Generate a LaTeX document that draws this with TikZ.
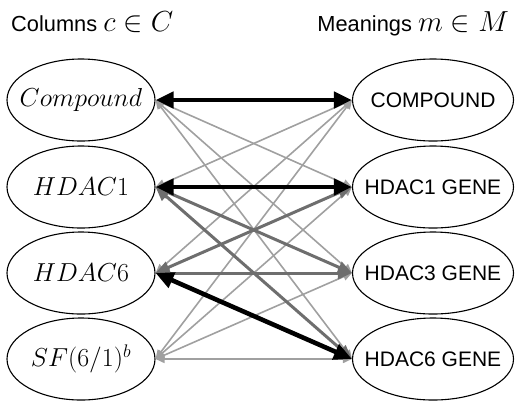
\RequirePackage{fix-cm}
\documentclass[tikz,border=0pt]{standalone}
\usepackage[no-math]{fontspec}
\newfontfamily\arialfont{Liberation Sans}
\usetikzlibrary{arrows.meta,shapes.geometric}
\definecolor{lgray}{HTML}{A0A0A0}
\definecolor{mgray}{HTML}{6E6E6E}
\begin{document}
\begin{tikzpicture}[x=1bp,y=-1bp,
  lnode/.style={draw,line width=1.1bp,ellipse,minimum width=148bp,minimum height=82bp,inner sep=0pt},
  rnode/.style={draw,line width=1.1bp,ellipse,minimum width=161bp,minimum height=82bp,inner sep=0pt},
  ltext/.style={inner sep=0pt,font=\fontsize{26bp}{30bp}\selectfont},
  rtext/.style={inner sep=0pt,font=\arialfont\fontsize{21bp}{25bp}\selectfont},
  hdr/.style={inner sep=0pt,font=\arialfont\fontsize{21.8bp}{26bp}\selectfont},
  liteedge/.style={draw=lgray,line width=1.6bp,{Triangle[length=9bp,width=8bp]}-{Triangle[length=9bp,width=8bp]}},
  midedge/.style={draw=mgray,line width=3bp,{Triangle[length=14bp,width=12bp]}-{Triangle[length=14bp,width=12bp]}},
  boldedge/.style={draw=black,line width=4.6bp,{Triangle[length=18bp,width=16bp]}-{Triangle[length=18bp,width=16bp]}}
]
\useasboundingbox (0,0) rectangle (515,400);
\node[hdr,anchor=base west] (hc) at (11,31) {Columns {\fontsize{29bp}{32bp}\selectfont$c\in C$}};
\node[hdr,anchor=base east] (hm) at (509,31) {Meanings {\fontsize{29bp}{32bp}\selectfont$m\in M$}};

\node[lnode] (L1) at (81,100) {};
\node[lnode] (L2) at (81,187) {};
\node[lnode] (L3) at (81,273) {};
\node[lnode] (L4) at (81,359) {};
\node[ltext] (t1) at (L1) {$Compound$};
\node[ltext] (t2) at (L2) {$HDAC1$};
\node[ltext] (t3) at (L3) {$HDAC6$};
\node[ltext] (t4) at (L4) {$SF(6/1)^b$};

\node[rnode] (R1) at (433,100) {};
\node[rnode] (R2) at (433,187) {};
\node[rnode] (R3) at (433,273) {};
\node[rnode] (R4) at (433,359) {};
\node[rtext] (s1) at (R1) {COMPOUND};
\node[rtext] (s2) at (R2) {HDAC1 GENE};
\node[rtext] (s3) at (R3) {HDAC3 GENE};
\node[rtext] (s4) at (R4) {HDAC6 GENE};

\foreach \a/\b in {1/2,1/3,1/4,2/1,3/1,4/1,4/2,4/3,4/4}
  \draw[liteedge] (L\a.east) -- (R\b.west);
\foreach \a/\b in {2/3,2/4,3/2,3/3}
  \draw[midedge] (L\a.east) -- (R\b.west);
\foreach \a/\b in {1/1,2/2,3/4}
  \draw[boldedge] (L\a.east) -- (R\b.west);
\end{tikzpicture}
\end{document}
